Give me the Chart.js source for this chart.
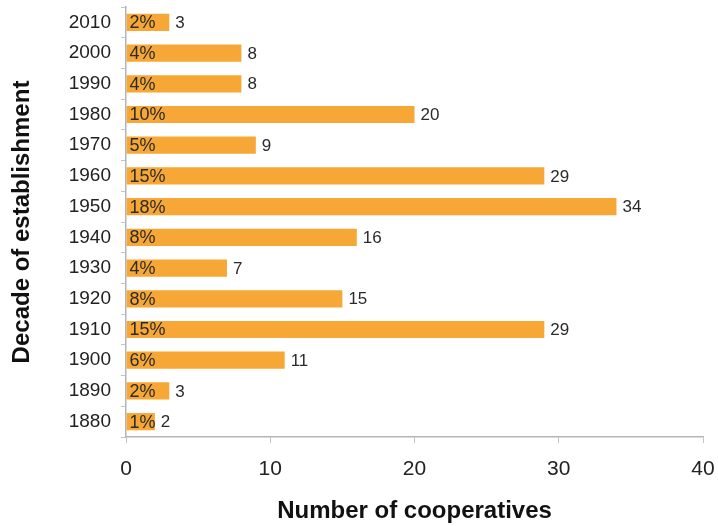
<html lang="en">
<head>
    <meta charset="UTF-8">
    <title>Decade of establishment</title>
    <script src="https://cdn.jsdelivr.net/npm/chart.js"></script>
    <style>
        html, body { margin: 0; padding: 0; background: #fff; }
        #wrap { width: 718px; height: 526px; position: relative; }
    </style>
</head>
<body>
    <div id="wrap"><canvas id="barChart"></canvas></div>
    <script>
        // decades, oldest first (1880 drawn at the bottom)
        const decades = ['1880', '1890', '1900', '1910', '1920', '1930', '1940', '1950', '1960', '1970', '1980', '1990', '2000', '2010'];
        const counts = [2, 3, 11, 29, 15, 7, 16, 34, 29, 9, 20, 8, 8, 3];
        const shares = ['1%', '2%', '6%', '15%', '8%', '4%', '8%', '18%', '15%', '5%', '10%', '4%', '4%', '2%'];
        const xTicks = [0, 10, 20, 30, 40];

        const fontFam = '"Liberation Sans", Arial, Helvetica, sans-serif';

        // writes the share inside the bar and the count after it
        const barLabels = {
            id: 'barLabels',
            afterDatasetsDraw(chart) {
                const ctx = chart.ctx;
                const meta = chart.getDatasetMeta(0);
                ctx.save();
                ctx.textBaseline = 'middle';
                ctx.textAlign = 'left';
                ctx.fillStyle = '#2b2b2b';
                meta.data.forEach((bar, i) => {
                    ctx.font = '18px ' + fontFam;
                    ctx.fillText(shares[i], bar.base + 3, bar.y + 1);
                    ctx.font = '17px ' + fontFam;
                    ctx.fillText(String(counts[i]), bar.x + 6, bar.y + 1);
                });
                ctx.restore();
            }
        };

        new Chart(document.getElementById('barChart'), {
            type: 'bar',
            data: {
                labels: decades,
                datasets: [{
                    data: counts,
                    backgroundColor: '#f7a735',
                    borderWidth: 0,
                    barPercentage: 0.56,
                    categoryPercentage: 1
                }]
            },
            options: {
                indexAxis: 'y',
                responsive: true,
                maintainAspectRatio: false,
                animation: false,
                layout: { autoPadding: false, padding: { top: 7, right: 15, left: 0, bottom: 0 } },
                plugins: {
                    legend: { display: false },
                    tooltip: { enabled: false }
                },
                scales: {
                    x: {
                        min: 0,
                        max: 40,
                        afterBuildTicks: axis => { axis.ticks = xTicks.map(v => ({ value: v })); },
                        afterFit: axis => {
                            axis.height = 89;
                            axis.paddingLeft = 0;
                            axis.paddingRight = 0;
                        },
                        grid: { drawOnChartArea: false, drawTicks: true, tickLength: 6, color: '#c4c4c4' },
                        border: { color: '#b5b5b5', width: 1.5 },
                        ticks: { color: '#222', padding: 14, font: { size: 21, family: fontFam } },
                        title: {
                            display: true,
                            text: 'Number of cooperatives',
                            color: '#111',
                            padding: { top: 10, bottom: 0 },
                            font: { size: 24, weight: 'bold', family: fontFam }
                        }
                    },
                    y: {
                        reverse: true,
                        afterFit: axis => {
                            axis.width = 126;
                            axis.paddingTop = 0;
                            axis.paddingBottom = 0;
                        },
                        grid: { offset: true, drawOnChartArea: false, drawTicks: true, tickLength: 5, color: '#c4c4c4' },
                        border: { color: '#b5b5b5', width: 1.5 },
                        ticks: { color: '#222', padding: 10, font: { size: 19, family: fontFam } },
                        title: {
                            display: true,
                            text: 'Decade of establishment',
                            color: '#111',
                            padding: { top: 8, bottom: 12 },
                            font: { size: 24, weight: 'bold', family: fontFam }
                        }
                    }
                }
            },
            plugins: [barLabels]
        });
    </script>
</body>
</html>
